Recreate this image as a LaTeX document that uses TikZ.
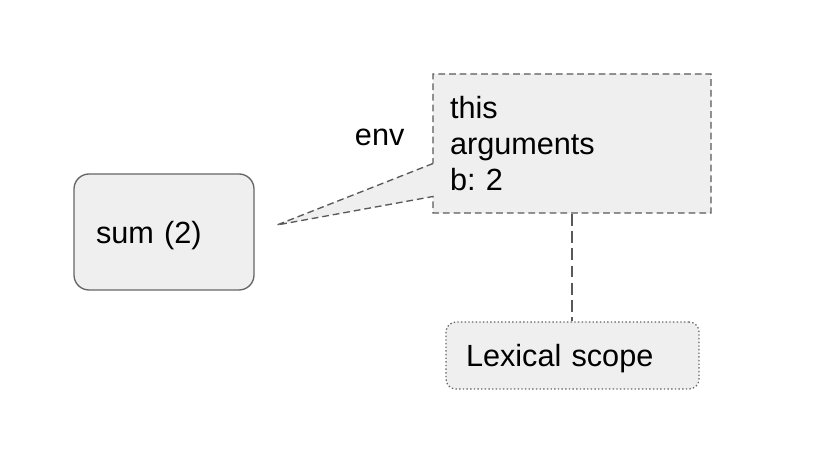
\documentclass[tikz,border=0pt]{standalone}
\usepackage{fontspec}
\setmainfont{Liberation Sans}
\usetikzlibrary{shapes.callouts}

\definecolor{boxfill}{HTML}{EFEFEF}
\definecolor{boxline}{HTML}{666666}
\definecolor{dashline}{HTML}{595959}

\tikzset{
  txt/.style={font=\fontsize{21.8}{25.6}\selectfont},
  funcbox/.style={txt, draw=boxline, fill=boxfill, line width=0.95pt, rounded corners=0.375cm,
    minimum height=2.9cm, inner xsep=0.55cm, text width=3.4cm, text depth=0pt, align=left},
  envbox/.style={txt, rectangle callout, draw=dashline, fill=boxfill, line width=0.95pt,
    dash pattern=on 4.8pt off 2.8pt, minimum height=3.475cm, inner xsep=0.425cm,
    text width=6.1cm, align=left, callout pointer width=0.825cm},
  scopebox/.style={txt, draw=boxline, fill=boxfill, line width=0.9pt, rounded corners=0.25cm,
    dash pattern=on 1pt off 1.6pt, minimum height=1.675cm, inner xsep=0.5cm,
    text width=5.325cm, text depth=0pt, align=left},
  link/.style={draw=dashline, line width=0.95pt, dash pattern=on 8.5pt off 3.8pt}
}

\begin{document}
\frenchspacing
\begin{tikzpicture}
  \useasboundingbox (0,0) rectangle (20.9,11.55);
  % call and its environment record
  \coordinate (tip) at (6.925,5.925);
  \node[funcbox] (sum) at (4.1,5.75) {sum (2)};
  \node[envbox, callout absolute pointer={(tip)}] (env) at (14.3,7.9625) {this\\arguments\\b: 2};
  \node[txt, anchor=base west] (envlabel) at (8.75,7.9) {env};
  % outer scope
  \node[scopebox] (lex) at (14.3125,2.6625) {Lexical scope};
  \draw[link] (env.south) -- (env.south |- lex.north);
\end{tikzpicture}
\end{document}
